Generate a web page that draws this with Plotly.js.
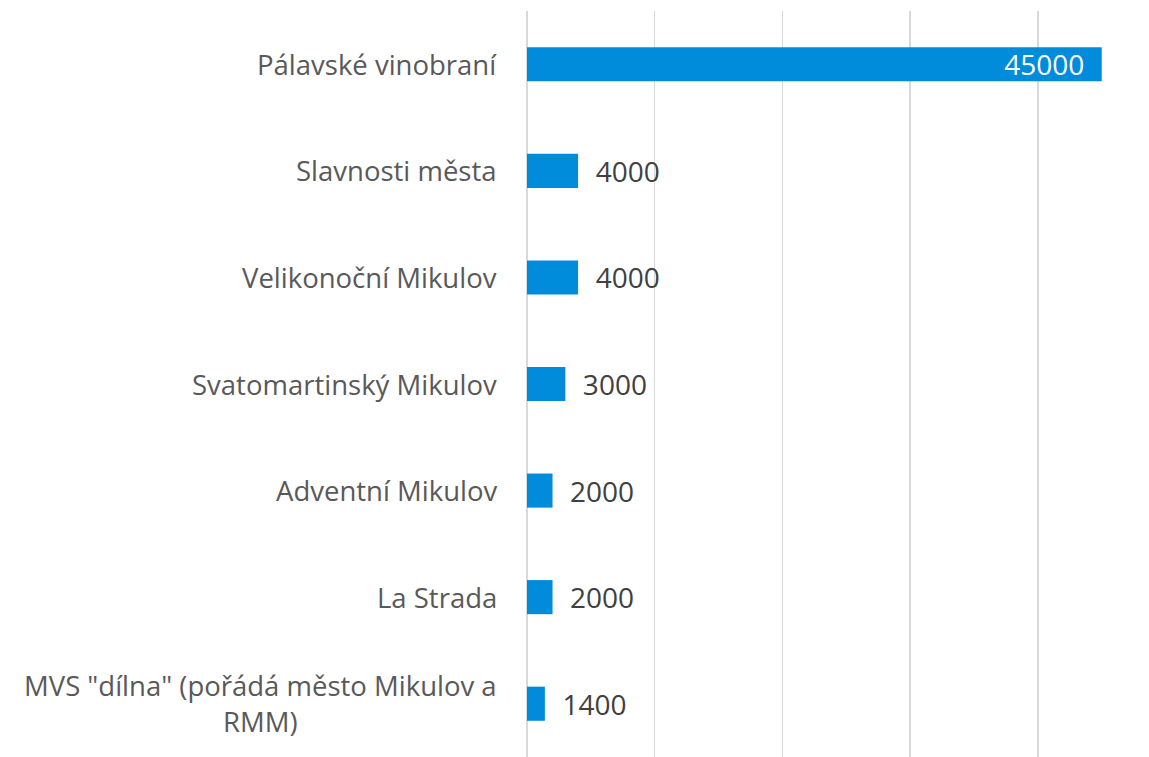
<!DOCTYPE html>
<html>
<head>
<meta charset="utf-8">
<script src="https://cdn.plot.ly/plotly-3.0.1.min.js"></script>
<style>html,body{margin:0;padding:0;background:#fff;}#chart{width:1149px;height:757px;}</style>
</head>
<body>
<div id="chart"></div>
<script>
const categories = [
  'Pálavské vinobraní',
  'Slavnosti města',
  'Velikonoční Mikulov',
  'Svatomartinský Mikulov',
  'Adventní Mikulov',
  'La Strada',
  'MVS "dílna" (pořádá město Mikulov a<br>RMM)'
];
const values = [45000, 4000, 4000, 3000, 2000, 2000, 1400];
const labelPositions = ['inside', 'outside', 'outside', 'outside', 'outside', 'outside', 'outside'];

const NB = '\u00a0';
const templates = labelPositions.map(p => p === 'inside' ? '%{x:d}' + NB + NB : NB + NB + '%{x:d}');

const trace = {
  type: 'bar',
  orientation: 'h',
  y: categories,
  x: values,
  width: 0.32,
  marker: {color: '#008BDB'},
  texttemplate: templates,
  textposition: labelPositions,
  insidetextanchor: 'end',
  outsidetextfont: {family: 'Open Sans, sans-serif', size: 28, color: '#404040'},
  insidetextfont: {family: 'Open Sans, sans-serif', size: 28, color: '#ffffff'},
  constraintext: 'none',
  cliponaxis: false,
  hoverinfo: 'none'
};

const annotations = categories.map(c => ({
  xref: 'paper', yref: 'y', x: 0, y: c,
  xanchor: 'right', yanchor: 'middle', xshift: -28,
  text: c, showarrow: false, align: 'center',
  font: {family: 'Open Sans, sans-serif', size: 27.5, color: '#595959'}
}));

const layout = {
  width: 1149, height: 757,
  margin: {l: 527, r: 0, t: 11, b: 0, pad: 0},
  paper_bgcolor: '#ffffff', plot_bgcolor: '#ffffff',
  showlegend: false,
  xaxis: {
    range: [0, 48700], dtick: 10000, showgrid: true, gridcolor: '#d9d9d9', gridwidth: 1.5,
    showticklabels: false, zeroline: true, zerolinecolor: '#d9d9d9', zerolinewidth: 1.5,
    showline: false, ticks: ''
  },
  yaxis: {
    autorange: 'reversed', showticklabels: false, showgrid: false, zeroline: false,
    showline: false, ticks: ''
  },
  annotations: annotations,
  bargap: 0.68
};

Plotly.newPlot('chart', [trace], layout, {displayModeBar: false, staticPlot: true});
</script>
</body>
</html>
